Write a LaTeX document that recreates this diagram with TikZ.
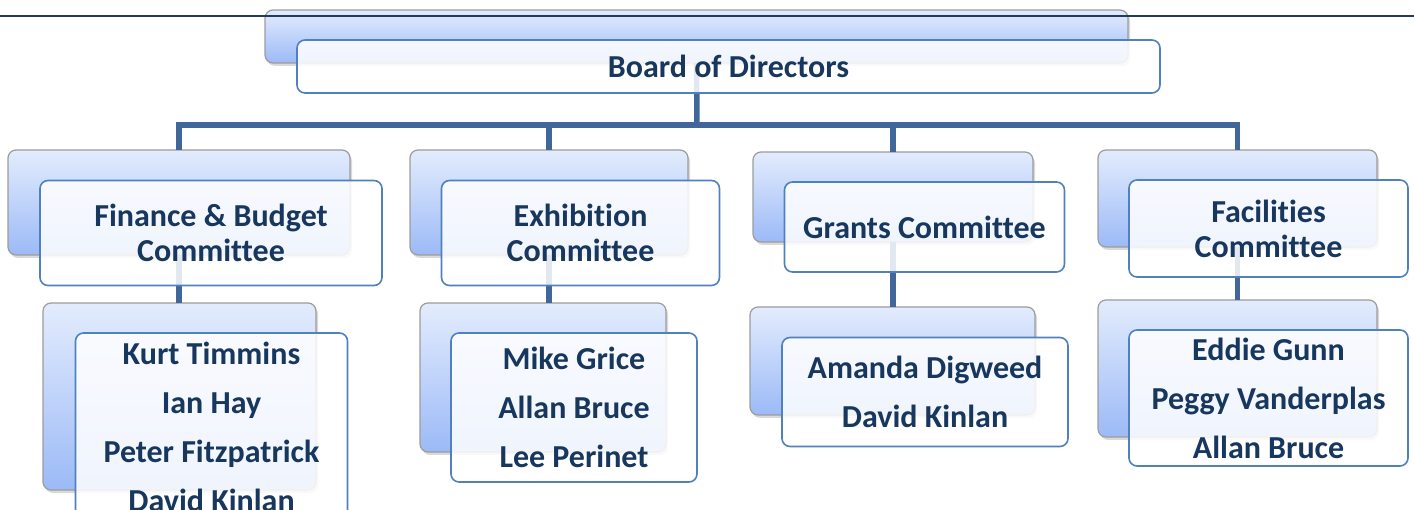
\documentclass[tikz,border=0pt]{standalone}
\usepackage{fontspec}
\setmainfont{Carlito}[Ligatures={NoCommon}]
\usepackage{xcolor}
\usepackage{tikz}
\usetikzlibrary{positioning, shadows}

\definecolor{navy}{HTML}{17375E}
\definecolor{boxtop}{HTML}{E3ECFD}
\definecolor{boxbot}{HTML}{9CBAF7}
\definecolor{boxgray}{HTML}{9C9C9C}
\definecolor{boxblue}{HTML}{4F81BD}
\definecolor{linkblue}{HTML}{41669A}
\definecolor{rule}{HTML}{1F3B5E}

\begin{document}
\begin{tikzpicture}[
  x=1pt, y=-1pt,
  font=\bfseries\fontsize{32}{35}\selectfont,
  backbox/.style={draw=boxgray, line width=1.2pt, rounded corners=8pt,
                  top color=boxtop, bottom color=boxbot, inner sep=0pt, outer sep=0pt,
                  drop shadow={shadow xshift=2pt, shadow yshift=-3pt, opacity=0.3}},
  frontbox/.style={draw=boxblue, line width=1.6pt, rounded corners=8pt, fill=white,
                   fill opacity=0.85, text opacity=1, text=navy, align=center,
                   inner sep=0pt, outer sep=0pt, on grid},
  people/.style={font=\bfseries\fontsize{32}{49}\selectfont},
  link/.style={draw=linkblue, line width=5.5pt}
]
\useasboundingbox (0,0) rectangle (1414,510);

% back plates
\node[backbox, minimum width=863pt, minimum height=53pt] (boardB) at (696.5,36.5) {};
\node[backbox, minimum width=342pt, minimum height=105pt] (finB) at (179,202.5) {};
\node[backbox, minimum width=278pt, minimum height=105pt] (exhB) at (549,202.5) {};
\node[backbox, minimum width=280pt, minimum height=90pt] (grantB) at (893,197) {};
\node[backbox, minimum width=279pt, minimum height=97pt] (facB) at (1237.5,198.5) {};
\node[backbox, minimum width=273pt, minimum height=187pt] (finMB) at (179.5,396.5) {};
\node[backbox, minimum width=246pt, minimum height=149pt] (exhMB) at (543,377.5) {};
\node[backbox, minimum width=285pt, minimum height=108pt] (grantMB) at (892.5,361) {};
\node[backbox, minimum width=279pt, minimum height=137pt] (facMB) at (1237.5,368.5) {};

% connectors
\coordinate (bus) at (697,125);
\draw[link] (boardB.south) -- (bus);
\draw[link] (bus) -| (finB.north);
\draw[link] (bus) -| (exhB.north);
\draw[link] (bus) -| (grantB.north);
\draw[link] (bus) -| (facB.north);
\draw[link] (finB.south) -- (finB.south |- finMB.north);
\draw[link] (exhB.south) -- (exhB.south |- exhMB.north);
\draw[link] (grantB.south) -- (grantB.south |- grantMB.north);
\draw[link] (facB.south) -- (facB.south |- facMB.north);

% front boxes
\node[frontbox, minimum width=863pt, minimum height=53pt, below right=30pt and 32pt of boardB] (board) {Board of Directors};
\node[frontbox, minimum width=342pt, minimum height=105pt, below right=30.5pt and 32pt of finB] (fin) {Finance \& Budget\\Committee};
\node[frontbox, minimum width=278pt, minimum height=105pt, below right=30.5pt and 31.5pt of exhB] (exh) {Exhibition\\Committee};
\node[frontbox, minimum width=280pt, minimum height=90pt, below right=30pt and 31.5pt of grantB] (grant) {Grants Committee};
\node[frontbox, minimum width=279pt, minimum height=97pt, below right=30pt and 31pt of facB] (fac) {Facilities\\Committee};
\node[frontbox, people, minimum width=272pt, minimum height=187pt, below right=30pt and 32pt of finMB] (finM) {Kurt Timmins\\Ian Hay\\Peter Fitzpatrick\\David Kinlan};
\node[frontbox, people, minimum width=246pt, minimum height=149pt, below right=30pt and 31pt of exhMB] (exhM) {Mike Grice\\Allan Bruce\\Lee Perinet};
\node[frontbox, people, minimum width=286pt, minimum height=109pt, below right=31pt and 32.5pt of grantMB] (grantM) {Amanda Digweed\\David Kinlan};
\node[frontbox, people, minimum width=279pt, minimum height=136pt, below right=29.5pt and 31pt of facMB] (facM) {Eddie Gunn\\Peggy Vanderplas\\Allan Bruce};

% header rule
\coordinate (ruleL) at (0,16);
\coordinate (ruleR) at (1414,16);
\draw[rule, line width=2pt] (ruleL) -- (ruleR);
\end{tikzpicture}
\end{document}
